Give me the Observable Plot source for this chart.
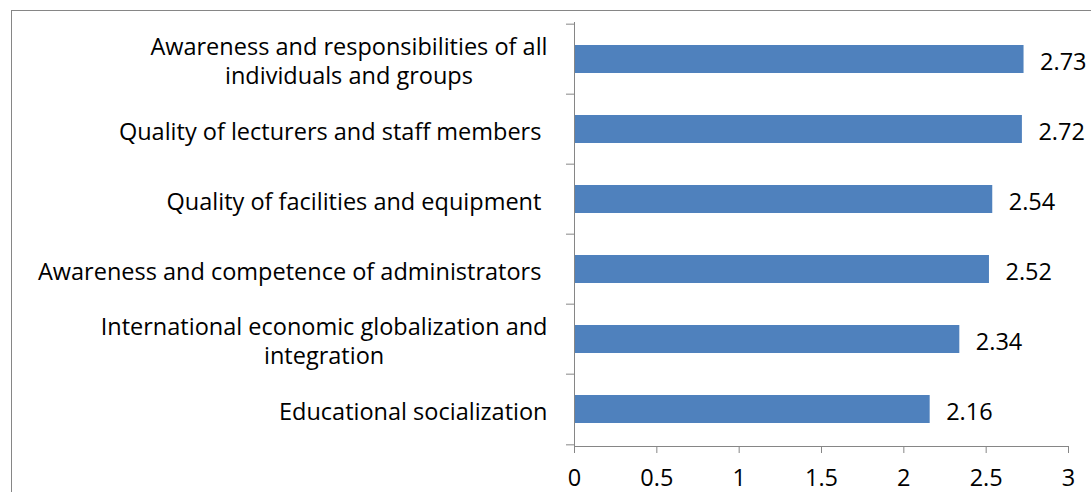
<!DOCTYPE html>
<html><head><meta charset="utf-8">
<script src="https://cdn.jsdelivr.net/npm/d3@7"></script>
<script src="https://cdn.jsdelivr.net/npm/@observablehq/plot@0.6"></script>
<style>
html,body{margin:0;padding:0;background:#fff;overflow:hidden;}
#wrap{position:relative;width:1091px;height:492px;overflow:hidden;}
#border{position:absolute;left:11px;top:10px;width:2000px;height:2000px;border-left:1px solid #868686;border-top:1px solid #868686;}
#chart{position:absolute;left:0;top:0;}
</style></head><body>
<div id="wrap"><div id="border"></div><div id="chart"></div></div>
<script>
const categories = [
  "Awareness and responsibilities of all\nindividuals and groups",
  "Quality of lecturers and staff members ",
  "Quality of facilities and equipment ",
  "Awareness and competence of administrators ",
  "International economic globalization and\nintegration",
  "Educational socialization"
];
const values = [2.73, 2.72, 2.54, 2.52, 2.34, 2.16];
const xTicks = [0, 0.5, 1, 1.5, 2, 2.5, 3];
const data = categories.map((c, i) => ({category: c, value: values[i]}));

const W = 1091, H = 492, mL = 574, mR = 23, mT = 22, mB = 46;
const step = (H - mT - mB) / categories.length;
const font = "'Open Sans', sans-serif";
const fs = 23.5;
const axisColor = "#868686";

const plot = Plot.plot({
  width: W, height: H,
  marginLeft: mL, marginRight: mR, marginTop: mT, marginBottom: mB,
  style: {fontFamily: font, fontSize: fs + "px", color: "#000", background: "transparent", overflow: "visible"},
  x: {domain: [0, 3]},
  y: {domain: categories, paddingInner: 0.6, paddingOuter: 0.3},
  marks: [
    Plot.barX(data, {y: "category", x: "value", fill: "#4F81BD"}),
    Plot.text(data, {y: "category", x: "value", text: d => d.value.toFixed(2), textAnchor: "start", dx: 16, dy: 2.5, fill: "#000", fontSize: fs}),
    Plot.ruleX([0], {stroke: axisColor}),
    Plot.frame({anchor: "bottom", stroke: axisColor}),
    Plot.axisX({ticks: xTicks, tickSize: 7, tickPadding: 16, tickFormat: d => String(d), stroke: axisColor, fill: "#000", fontSize: fs, label: null}),
    Plot.axisY({tickSize: 8, tickFormat: () => "", dy: -step / 2, stroke: axisColor, label: null}),
    Plot.axisY({ticks: [categories[categories.length - 1]], tickSize: 8, tickFormat: () => "", dy: step / 2, stroke: axisColor, label: null}),
    Plot.text(categories, {y: d => d, frameAnchor: "left", textAnchor: "end", dx: -27, dy: 1, lineHeight: 29 / fs, fill: "#000", fontSize: fs, text: d => d.replace(/ (?=\n|$)/g, "\u00a0")})
  ]
});
document.getElementById("chart").append(plot);
plot.querySelectorAll("text").forEach(t => {
  const ts = t.querySelectorAll("tspan");
  if (ts.length > 1) {
    let w = 0;
    ts.forEach(s => { w = Math.max(w, s.getComputedTextLength()); });
    const base = +(t.getAttribute("x") || 0);
    t.setAttribute("text-anchor", "middle");
    ts.forEach(s => s.setAttribute("x", base - w / 2));
  }
});
</script>
</body></html>
